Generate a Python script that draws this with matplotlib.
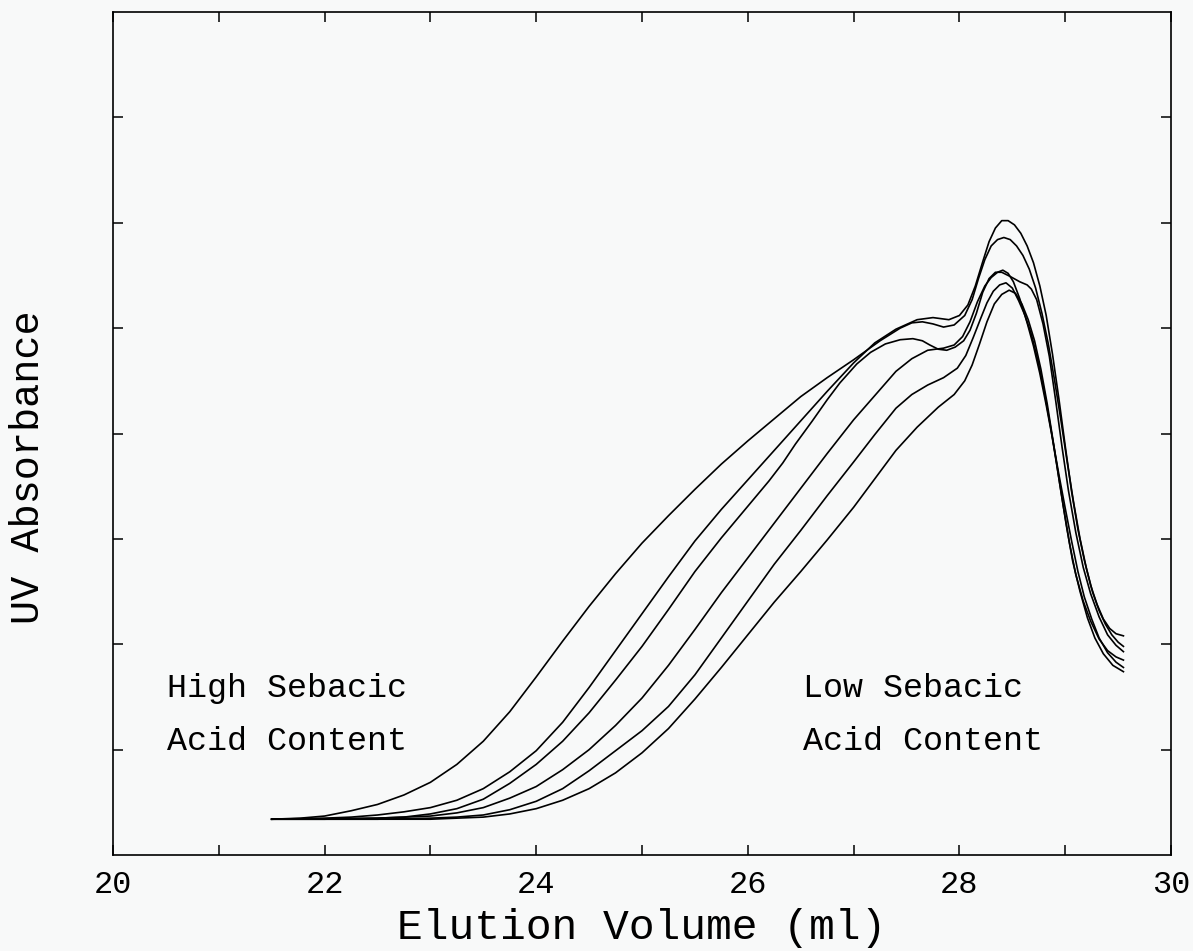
import matplotlib
matplotlib.use("Agg")
import matplotlib.pyplot as plt

# elution volume (ml) / UV absorbance, left (high sebacic) to right (low)
x1 = [21.50, 21.77, 22.00, 22.25, 22.50, 22.75, 23.00, 23.25, 23.50, 23.75, 24.00, 24.25, 24.50, 24.75,
      25.00, 25.25, 25.50, 25.75, 26.00, 26.25, 26.50, 26.75, 27.00, 27.25, 27.44, 27.55, 27.65, 27.75,
      27.85, 27.95, 28.05, 28.12, 28.18, 28.24, 28.30, 28.36, 28.42, 28.48, 28.54, 28.60, 28.66, 28.72,
      28.78, 28.84, 28.90, 28.96, 29.02, 29.08, 29.14, 29.20, 29.26, 29.32, 29.38, 29.44, 29.50, 29.55]
y1 = [0.34, 0.35, 0.37, 0.42, 0.48, 0.57, 0.69, 0.86, 1.08, 1.36, 1.69, 2.03, 2.36, 2.67,
      2.96, 3.22, 3.47, 3.71, 3.93, 4.14, 4.35, 4.53, 4.70, 4.88, 5.00, 5.05, 5.06, 5.04,
      5.01, 5.03, 5.12, 5.27, 5.47, 5.65, 5.78, 5.84, 5.86, 5.84, 5.78, 5.69, 5.56, 5.38,
      5.14, 4.85, 4.50, 4.12, 3.72, 3.34, 3.00, 2.72, 2.49, 2.32, 2.19, 2.09, 2.02, 1.98]

x2 = [21.50, 22.00, 22.25, 22.50, 22.75, 23.00, 23.25, 23.50, 23.75, 24.00, 24.25, 24.50, 24.75, 25.00,
      25.25, 25.50, 25.75, 26.00, 26.25, 26.50, 26.75, 27.00, 27.20, 27.40, 27.60, 27.75, 27.90, 28.00,
      28.08, 28.15, 28.22, 28.28, 28.34, 28.40, 28.46, 28.52, 28.58, 28.64, 28.70, 28.76, 28.82, 28.88,
      28.94, 29.00, 29.06, 29.12, 29.18, 29.24, 29.30, 29.36, 29.42, 29.48, 29.55]
y2 = [0.34, 0.35, 0.36, 0.38, 0.41, 0.45, 0.52, 0.63, 0.79, 0.99, 1.26, 1.59, 1.94, 2.29,
      2.64, 2.98, 3.28, 3.56, 3.84, 4.12, 4.40, 4.67, 4.86, 4.99, 5.08, 5.10, 5.08, 5.12,
      5.22, 5.40, 5.63, 5.82, 5.95, 6.02, 6.02, 5.98, 5.90, 5.78, 5.62, 5.40, 5.12, 4.75,
      4.33, 3.88, 3.45, 3.09, 2.80, 2.56, 2.38, 2.24, 2.15, 2.10, 2.08]

x3 = [21.50, 22.50, 22.75, 23.00, 23.25, 23.50, 23.75, 24.00, 24.25, 24.50, 24.75, 25.00, 25.25, 25.50,
      25.75, 26.00, 26.20, 26.33, 26.45, 26.61, 26.75, 26.87, 27.03, 27.16, 27.30, 27.44, 27.56, 27.65,
      27.72, 27.80, 27.88, 27.96, 28.04, 28.10, 28.16, 28.22, 28.28, 28.34, 28.40, 28.48, 28.57, 28.64,
      28.68, 28.73, 28.79, 28.85, 28.91, 28.97, 29.03, 29.10, 29.17, 29.24, 29.32, 29.40, 29.48, 29.55]
y3 = [0.34, 0.35, 0.36, 0.39, 0.44, 0.53, 0.68, 0.86, 1.08, 1.35, 1.66, 1.98, 2.33, 2.69,
      3.01, 3.31, 3.55, 3.72, 3.90, 4.12, 4.32, 4.48, 4.66, 4.77, 4.85, 4.89, 4.90, 4.88,
      4.84, 4.80, 4.79, 4.82, 4.88, 4.98, 5.14, 5.34, 5.47, 5.53, 5.53, 5.49, 5.44, 5.41,
      5.37, 5.27, 5.04, 4.73, 4.31, 3.87, 3.46, 3.06, 2.73, 2.48, 2.26, 2.09, 1.99, 1.93]

x4 = [21.50, 22.00, 22.50, 23.00, 23.25, 23.50, 23.75, 24.00, 24.25, 24.50, 24.75, 25.00, 25.25, 25.50,
      25.75, 26.00, 26.25, 26.50, 26.75, 27.00, 27.20, 27.40, 27.55, 27.70, 27.85, 27.95, 28.03, 28.10,
      28.17, 28.24, 28.30, 28.36, 28.41, 28.46, 28.51, 28.57, 28.64, 28.70, 28.76, 28.82, 28.88, 28.94,
      29.00, 29.06, 29.12, 29.18, 29.25, 29.32, 29.40, 29.48, 29.55]
y4 = [0.34, 0.34, 0.35, 0.37, 0.40, 0.45, 0.54, 0.65, 0.81, 1.00, 1.23, 1.49, 1.80, 2.14,
      2.49, 2.82, 3.15, 3.48, 3.81, 4.13, 4.36, 4.59, 4.71, 4.79, 4.81, 4.84, 4.92, 5.06,
      5.25, 5.40, 5.48, 5.53, 5.55, 5.52, 5.44, 5.28, 5.05, 4.83, 4.57, 4.27, 3.95, 3.61,
      3.29, 2.98, 2.69, 2.45, 2.24, 2.06, 1.92, 1.83, 1.78]

x5 = [21.50, 22.50, 23.00, 23.25, 23.50, 23.75, 24.00, 24.25, 24.50, 24.75, 25.00, 25.25, 25.50, 25.75,
      26.00, 26.25, 26.50, 26.75, 27.00, 27.20, 27.40, 27.55, 27.70, 27.85, 27.98, 28.06, 28.13, 28.20,
      28.26, 28.32, 28.38, 28.44, 28.50, 28.56, 28.62, 28.68, 28.74, 28.80, 28.86, 28.92, 28.98, 29.04,
      29.10, 29.17, 29.24, 29.32, 29.40, 29.48, 29.55]
y5 = [0.34, 0.34, 0.35, 0.36, 0.38, 0.43, 0.51, 0.63, 0.80, 0.99, 1.18, 1.41, 1.71, 2.06,
      2.41, 2.76, 3.08, 3.41, 3.73, 3.99, 4.24, 4.37, 4.46, 4.53, 4.62, 4.74, 4.91, 5.09,
      5.24, 5.35, 5.41, 5.43, 5.38, 5.26, 5.12, 4.94, 4.70, 4.41, 4.07, 3.70, 3.32, 2.96,
      2.66, 2.41, 2.22, 2.05, 1.94, 1.88, 1.85]

x6 = [21.50, 23.00, 23.25, 23.50, 23.75, 24.00, 24.25, 24.50, 24.75, 25.00, 25.25, 25.50, 25.75, 26.00,
      26.25, 26.50, 26.75, 27.00, 27.20, 27.40, 27.60, 27.80, 27.95, 28.05, 28.12, 28.19, 28.26, 28.33,
      28.40, 28.47, 28.53, 28.59, 28.65, 28.71, 28.77, 28.83, 28.89, 28.95, 29.01, 29.07, 29.14, 29.21,
      29.28, 29.36, 29.45, 29.55]
y6 = [0.34, 0.34, 0.35, 0.36, 0.39, 0.44, 0.52, 0.63, 0.78, 0.97, 1.20, 1.48, 1.78, 2.09,
      2.40, 2.69, 2.99, 3.30, 3.57, 3.84, 4.06, 4.25, 4.37, 4.50, 4.65, 4.85, 5.06, 5.23,
      5.32, 5.36, 5.33, 5.23, 5.08, 4.88, 4.61, 4.28, 3.90, 3.51, 3.13, 2.79, 2.50, 2.25,
      2.06, 1.91, 1.80, 1.74]

curves = [(x1, y1), (x2, y2), (x3, y3), (x4, y4), (x5, y5), (x6, y6)]

xticks = list(range(20, 31))
xlabels = [str(v) if v % 2 == 0 else "" for v in xticks]
yticks = list(range(1, 8))

plt.rcParams["font.family"] = ["Liberation Mono", "DejaVu Sans Mono"]
bg = "#f8f9f9"

fig = plt.figure(figsize=(11.93, 9.51), dpi=100, facecolor=bg)
ax = fig.add_axes([0.0947, 0.1009, 0.8869, 0.8865], facecolor=bg)

for xs, ys in curves:
    ax.plot(xs, ys, color="black", lw=1.2)

ax.set_xlim(20, 30)
ax.set_ylim(0, 8)
ax.set_xticks(xticks)
ax.set_xticklabels(xlabels)
ax.set_yticks(yticks)
ax.set_yticklabels([])
ax.tick_params(direction="in", length=7.5, width=1.1, top=True, right=True,
               labelsize=23, pad=11, colors="black")
for s in ax.spines.values():
    s.set_linewidth(1.2)

# annotations
ax.text(20.51, 1.5, "High Sebacic", fontsize=24, ha="left", va="baseline")
ax.text(20.51, 1.0, "Acid Content", fontsize=24, ha="left", va="baseline")
ax.text(26.52, 1.5, "Low Sebacic", fontsize=24, ha="left", va="baseline")
ax.text(26.52, 1.0, "Acid Content", fontsize=24, ha="left", va="baseline")

fig.text(642 / 1193, 1 - 928 / 951, "Elution Volume (ml)", fontsize=31, ha="center", va="center")
fig.text(28 / 1193, 1 - 467 / 951, "UV Absorbance", fontsize=29, rotation=90, ha="center", va="center")

fig.savefig("out.png", dpi=100, facecolor=bg)
